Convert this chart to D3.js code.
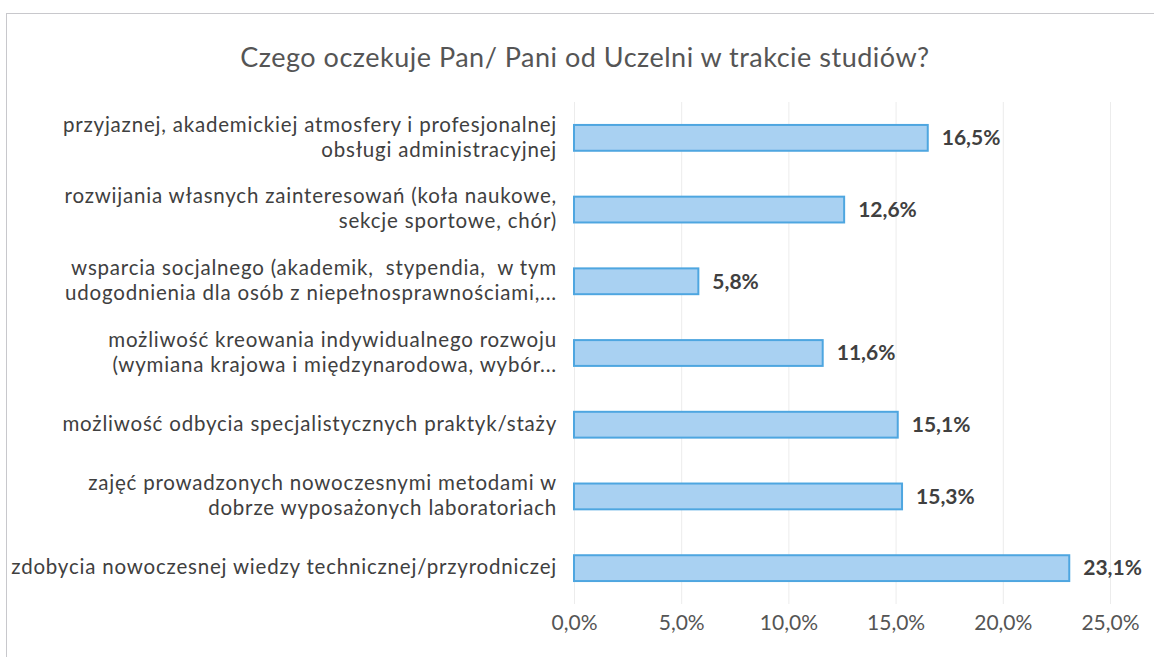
<!DOCTYPE html>
<html lang="pl">
<head>
    <meta charset="UTF-8">
    <title>Czego oczekuje Pan/ Pani od Uczelni</title>
    <script src="https://d3js.org/d3.v7.min.js"></script>
    <style>
        body { margin: 0; background: #fff; }
        svg text { font-family: Lato, "Liberation Sans", sans-serif; white-space: pre; }
    </style>
</head>
<body>
<svg id="chart"></svg>
<script>
    // categories, top to bottom (each entry = lines of the label)
    const categories = [
        ["przyjaznej, akademickiej atmosfery i profesjonalnej", "obsługi administracyjnej"],
        ["rozwijania własnych zainteresowań (koła naukowe,", "sekcje sportowe, chór)"],
        ["wsparcia socjalnego (akademik,  stypendia,  w tym", "udogodnienia dla osób z niepełnosprawnościami,..."],
        ["możliwość kreowania indywidualnego rozwoju", "(wymiana krajowa i międzynarodowa, wybór..."],
        ["możliwość odbycia specjalistycznych praktyk/staży"],
        ["zajęć prowadzonych nowoczesnymi metodami w", "dobrze wyposażonych laboratoriach"],
        ["zdobycia nowoczesnej wiedzy technicznej/przyrodniczej"]
    ];
    const values = [16.5, 12.6, 5.8, 11.6, 15.1, 15.3, 23.1];
    const ticks = [0, 5, 10, 15, 20, 25];
    const title = "Czego oczekuje Pan/ Pani od Uczelni w trakcie studiów?";

    const W = 1154, H = 657;
    const margin = { top: 102, right: 44, bottom: 53, left: 574 };
    const fmt = v => v.toFixed(1).replace(".", ",") + "%";

    const svg = d3.select("#chart").attr("width", W).attr("height", H);

    // chart frame
    svg.append("rect")
        .attr("x", 6.5).attr("y", 13.5)
        .attr("width", W + 10).attr("height", H + 10)
        .attr("fill", "none").attr("stroke", "#c8c8cc").attr("stroke-width", 1);

    svg.append("text")
        .attr("x", 585).attr("y", 67)
        .attr("text-anchor", "middle")
        .attr("font-size", 27)
        .attr("letter-spacing", 0.5)
        .attr("fill", "#555")
        .text(title);

    const x = d3.scaleLinear().domain([0, 25]).range([margin.left, W - margin.right]);
    const y = d3.scaleBand()
        .domain(d3.range(categories.length))
        .range([margin.top, H - margin.bottom])
        .paddingInner(0.64).paddingOuter(0.32);

    // gridlines
    svg.append("g").selectAll("line")
        .data(ticks)
        .join("line")
        .attr("x1", d => x(d) + 0.5).attr("x2", d => x(d) + 0.5)
        .attr("y1", margin.top).attr("y2", H - margin.bottom)
        .attr("stroke", "#ececec");

    // x axis
    const xAxis = svg.append("g")
        .attr("transform", `translate(0,${H - 30})`)
        .call(d3.axisBottom(x).tickValues(ticks).tickFormat(fmt).tickSize(0));
    xAxis.select(".domain").remove();
    xAxis.attr("font-family", null);
    xAxis.selectAll("text")
        .attr("font-size", 21)
        .attr("fill", "#555")
        .attr("dy", 0);

    // bars
    svg.append("g").selectAll("rect")
        .data(values)
        .join("rect")
        .attr("x", x(0))
        .attr("y", (d, i) => y(i))
        .attr("width", d => x(d) - x(0))
        .attr("height", y.bandwidth())
        .attr("fill", "#a9d1f2")
        .attr("stroke", "#4ea6e0")
        .attr("stroke-width", 2);

    // value labels
    svg.append("g").selectAll("text")
        .data(values)
        .join("text")
        .attr("x", d => x(d) + 14)
        .attr("y", (d, i) => y(i) + y.bandwidth() / 2)
        .attr("dy", "0.35em")
        .attr("font-size", 21)
        .attr("font-weight", "bold")
        .attr("fill", "#404040")
        .text(fmt);

    // category labels
    const lab = svg.append("g").selectAll("text")
        .data(categories)
        .join("text")
        .attr("text-anchor", "end")
        .attr("font-size", 20.5)
        .attr("letter-spacing", 0.8)
        .attr("fill", "#404040");
    lab.each(function (lines, i) {
        const cy = y(i) + y.bandwidth() / 2;
        const lh = 25;
        d3.select(this).selectAll("tspan")
            .data(lines)
            .join("tspan")
            .attr("x", 557)
            .attr("y", (d, j) => cy + (j - (lines.length - 1) / 2) * lh)
            .attr("dy", "0.3em")
            .text(d => d);
    });
</script>
</body>
</html>
